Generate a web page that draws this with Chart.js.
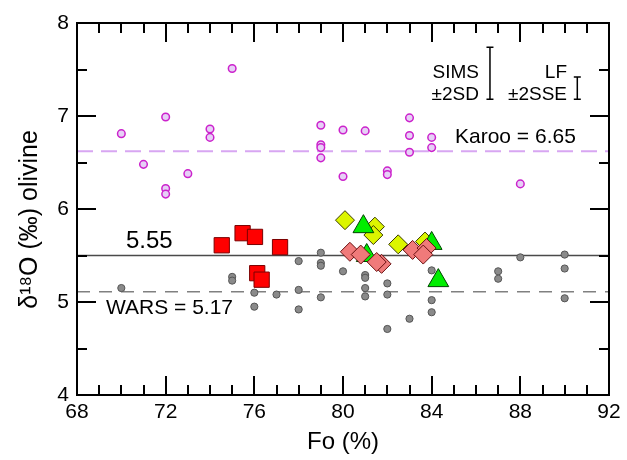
<!DOCTYPE html>
<html>
<head>
<meta charset="utf-8">
<script src="https://cdn.jsdelivr.net/npm/chart.js@4/dist/chart.umd.min.js"></script>
<style>
  html, body { margin: 0; padding: 0; background: #fff; }
  #wrap { width: 627px; height: 460px; position: relative; }
</style>
</head>
<body>
<div id="wrap"><canvas id="c" width="627" height="460"></canvas></div>
<script>
// ---- data ----
const magentaFo   = [70, 71, 72, 72, 72, 73, 74, 74, 75, 79, 79, 79, 79, 80, 80, 81, 82, 82, 83, 83, 83, 84, 84, 88];
const magentaD18O = [6.81, 6.48, 6.99, 6.22, 6.16, 6.38, 6.86, 6.77, 7.51, 6.90, 6.69, 6.66, 6.55, 6.85, 6.35, 6.84, 6.41, 6.37, 6.98, 6.79, 6.61, 6.77, 6.66, 6.27];

const greyFo   = [70, 75, 75, 76, 76, 77, 78, 78, 78, 79, 79, 79, 79, 80, 81, 81, 81, 81, 82, 82, 82, 83, 84, 84, 84, 87, 87, 88, 90, 90, 90];
const greyD18O = [5.15, 5.27, 5.23, 5.10, 4.95, 5.08, 5.44, 5.13, 4.92, 5.53, 5.42, 5.39, 5.05, 5.33, 5.29, 5.26, 5.15, 5.06, 5.20, 5.08, 4.71, 4.82, 5.34, 5.02, 4.89, 5.33, 5.25, 5.48, 5.51, 5.36, 5.04];

const redFo   = [74.53, 75.47, 76.03, 77.16, 76.13, 76.33];
const redD18O = [5.61, 5.74, 5.70, 5.59, 5.31, 5.24];

const yellowFo   = [80.09, 81.44, 81.37, 82.49, 83.70];
const yellowD18O = [5.88, 5.81, 5.72, 5.62, 5.65];

const greenFo   = [80.92, 81.07, 84.00, 84.30];
const greenD18O = [5.81, 5.50, 5.63, 5.23];

const salmonFo   = [80.31, 80.80, 81.74, 81.52, 83.14, 83.77, 83.62];
const salmonD18O = [5.54, 5.51, 5.41, 5.43, 5.56, 5.58, 5.51];

const refFo = [68, 92];
const karooValue = 6.62;
const meanValue = 5.5;
const warsValue = 5.11;

const xTicks = [68, 72, 76, 80, 84, 88, 92];
const yTicks = [4, 5, 6, 7, 8];

// error bars: [x, centre, half-length]
const simsBar = [86.63, 7.46, 0.28];
const lfBar   = [90.57, 7.30, 0.12];

const pts = (xs, ys) => xs.map((x, i) => ({x: x, y: ys[i]}));
const line = (v) => refFo.map(x => ({x: x, y: v}));

const FONT = "'Liberation Sans', Arial, sans-serif";

const decor = {
  id: 'decor',
  afterDatasetsDraw(chart) {
    const {ctx, chartArea: a, scales: {x, y}} = chart;
    ctx.save();
    ctx.strokeStyle = '#000';
    ctx.lineWidth = 2;
    // inward ticks
    ctx.beginPath();
    for (let v = 68; v <= 92; v += 1) {
      const px = Math.round(x.getPixelForValue(v));
      const len = (v % 4 === 0) ? 19 : 10;
      ctx.moveTo(px, a.bottom); ctx.lineTo(px, a.bottom - len);
      ctx.moveTo(px, a.top); ctx.lineTo(px, a.top + len);
    }
    for (let v = 4; v <= 8.001; v += 0.5) {
      const py = Math.round(y.getPixelForValue(v));
      const len = (Math.abs(v - Math.round(v)) < 1e-6) ? 19 : 10;
      ctx.moveTo(a.left, py); ctx.lineTo(a.left + len, py);
      ctx.moveTo(a.right, py); ctx.lineTo(a.right - len, py);
    }
    ctx.stroke();
    // frame
    ctx.strokeRect(a.left, a.top, a.right - a.left, a.bottom - a.top);

    // error bars
    ctx.lineWidth = 1.5;
    [simsBar, lfBar].forEach(b => {
      const px = x.getPixelForValue(b[0]);
      const t = y.getPixelForValue(b[1] + b[2]);
      const bt = y.getPixelForValue(b[1] - b[2]);
      ctx.beginPath();
      ctx.moveTo(px, t); ctx.lineTo(px, bt);
      ctx.moveTo(px - 3.5, t); ctx.lineTo(px + 3.5, t);
      ctx.moveTo(px - 3.5, bt); ctx.lineTo(px + 3.5, bt);
      ctx.stroke();
    });

    // annotations
    ctx.fillStyle = '#000';
    ctx.textBaseline = 'middle';
    ctx.font = '19px ' + FONT;
    ctx.textAlign = 'right';
    ctx.fillText('SIMS', 479, 73);
    ctx.fillText('±2SD', 479, 95);
    ctx.fillText('LF', 567, 73);
    ctx.fillText('±2SSE', 567, 95);
    ctx.textAlign = 'left';
    ctx.font = '21px ' + FONT;
    ctx.fillText('Karoo = 6.65', 455, 137);
    ctx.fillText('WARS = 5.17', 106, 308);
    ctx.font = '24px ' + FONT;
    ctx.fillText('5.55', 126, 241);
    ctx.restore();
  }
};

new Chart(document.getElementById('c'), {
  type: 'scatter',
  data: {
    datasets: [
      { data: pts(salmonFo, salmonD18O), pointStyle: 'rectRot', pointRadius: 9.5, backgroundColor: '#f07a7a', borderColor: '#6a1010', borderWidth: 1 },
      { data: pts(greenFo, greenD18O), pointStyle: 'triangle', pointRadius: 12, backgroundColor: '#00ee00', borderColor: '#004400', borderWidth: 1 },
      { data: pts(yellowFo, yellowD18O), pointStyle: 'rectRot', pointRadius: 9.5, backgroundColor: '#dcf500', borderColor: '#3a3a00', borderWidth: 1 },
      { data: pts(redFo, redD18O), pointStyle: 'rect', pointRadius: 10.8, backgroundColor: '#ff0000', borderColor: '#7a0000', borderWidth: 1 },
      { data: pts(greyFo, greyD18O), pointStyle: 'circle', pointRadius: 3.6, backgroundColor: '#8a8a8a', borderColor: '#555', borderWidth: 1 },
      { data: pts(magentaFo, magentaD18O), pointStyle: 'circle', pointRadius: 3.8, backgroundColor: '#e6d0f6', borderColor: '#cc22cc', borderWidth: 1.5 },
      { data: line(meanValue), showLine: true, pointRadius: 0, borderColor: '#4a4a4a', borderWidth: 1.6 },
      { data: line(warsValue), showLine: true, pointRadius: 0, borderColor: '#808080', borderWidth: 1.6, borderDash: [13, 9] },
      { data: line(karooValue), showLine: true, pointRadius: 0, borderColor: '#d8a6f2', borderWidth: 2, borderDash: [16, 8] }
    ]
  },
  options: {
    responsive: false,
    animation: false,
    events: [],
    layout: { padding: { left: 0, right: 18, top: 23, bottom: 0 } },
    plugins: { legend: { display: false }, tooltip: { enabled: false } },
    scales: {
      x: {
        type: 'linear', min: 68, max: 92,
        afterFit(s) { s.height = 65; },
        afterBuildTicks(s) { s.ticks = xTicks.map(v => ({value: v})); },
        grid: { display: false, drawTicks: false },
        border: { display: false },
        ticks: { color: '#000', font: { size: 21, family: FONT }, padding: 5, maxRotation: 0, autoSkip: false },
        title: { display: true, text: 'Fo (%)', color: '#000', font: { size: 24, family: FONT }, padding: { top: 0, bottom: 3 } }
      },
      y: {
        type: 'linear', min: 4, max: 8,
        afterFit(s) { s.width = 77; },
        afterBuildTicks(s) { s.ticks = yTicks.map(v => ({value: v})); },
        grid: { display: false, drawTicks: false },
        border: { display: false },
        ticks: { color: '#000', font: { size: 21, family: FONT }, padding: 8 },
        title: { display: true, text: 'δ¹⁸O (‰) olivine   ', color: '#000', font: { size: 25, family: FONT }, padding: { top: 15, bottom: 0 } }
      }
    }
  },
  plugins: [decor]
});
</script>
</body>
</html>
